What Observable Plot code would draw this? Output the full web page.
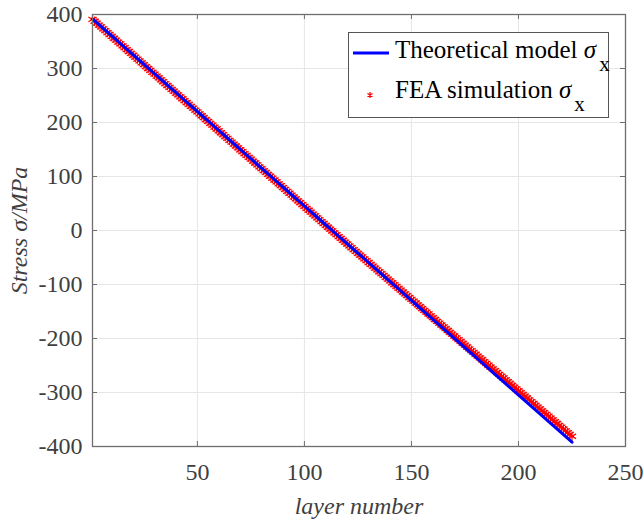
<!DOCTYPE html>
<html>
<head>
<meta charset="utf-8">
<script src="https://cdn.jsdelivr.net/npm/d3@7"></script>
<script src="https://cdn.jsdelivr.net/npm/@observablehq/plot@0.6"></script>
<style>
  html, body { margin: 0; padding: 0; background: #fff; }
  #chart svg { display: block; }
</style>
</head>
<body>
<div id="chart"></div>
<script>
// Theoretical model σx: linear through the layer stack
const theoryLayer = [1, 225];
const theoryStress = [392, -392];

// FEA simulation σx, one value per layer (MPa), layers 1..225
const feaStress = [
  391, 387.5, 384, 380.5, 377, 373.5, 370, 366.5, 363, 359.5,
  356, 352.5, 349, 345.5, 342, 338.5, 335, 331.5, 328, 324.5,
  321, 317.5, 314, 310.5, 307, 303.5, 300, 296.5, 293, 289.5,
  286, 282.5, 279, 275.5, 272, 268.5, 265, 261.5, 258, 254.5,
  251, 247.5, 244, 240.5, 237, 233.5, 230, 226.5, 223, 219.5,
  216, 212.5, 209, 205.5, 202, 198.5, 195, 191.5, 188, 184.5,
  181, 177.5, 174, 170.5, 167, 163.5, 160, 156.5, 153, 149.5,
  146, 142.5, 139, 135.5, 132, 128.5, 125, 121.5, 118, 114.5,
  111, 107.5, 104, 100.5, 97, 93.5, 90, 86.5, 83, 79.5,
  76, 72.5, 69, 65.5, 62, 58.5, 55, 51.5, 48, 44.5,
  41, 37.5, 34, 30.5, 27, 23.5, 20, 16.5, 13, 9.5,
  6.0, 2.6, -0.9, -4.3, -7.8, -11.2, -14.7, -18.1, -21.6, -25.0,
  -28.4, -31.9, -35.3, -38.7, -42.2, -45.6, -49.0, -52.4, -55.9, -59.3,
  -62.7, -66.1, -69.5, -72.9, -76.4, -79.8, -83.2, -86.6, -90.0, -93.4,
  -96.8, -100.2, -103.6, -107.0, -110.5, -113.9, -117.3, -120.7, -124.1, -127.5,
  -130.9, -134.3, -137.7, -141.1, -144.5, -147.9, -151.3, -154.6, -158.0, -161.4,
  -164.8, -168.2, -171.6, -175.0, -178.4, -181.8, -185.2, -188.6, -192.0, -195.4,
  -198.8, -202.2, -205.5, -208.9, -212.3, -215.7, -219.1, -222.4, -225.8, -229.2,
  -232.6, -236.0, -239.3, -242.7, -246.1, -249.5, -252.9, -256.2, -259.6, -263.0,
  -266.4, -269.8, -273.1, -276.5, -279.9, -283.3, -286.7, -290.0, -293.4, -296.8,
  -300.2, -303.5, -306.9, -310.2, -313.6, -317.0, -320.4, -323.7, -327.1, -330.5,
  -333.9, -337.2, -340.6, -343.9, -347.3, -350.7, -354.1, -357.4, -360.8, -364.2,
  -367.6, -370.9, -374.3, -377.6, -381.0
];

const xTicks = [50, 100, 150, 200, 250];
const yTicks = [-400, -300, -200, -100, 0, 100, 200, 300, 400];
const xLabel = "layer number";
const yLabel = "Stress σ/MPa";
const legendLabels = ["Theoretical model ", "FEA simulation "];

const theory = theoryLayer.map((l, i) => ({layer: l, stress: theoryStress[i]}));
const fea = feaStress.map((s, i) => ({layer: i + 1, stress: s}));

const W = 644, H = 521;
const mL = 92, mR = 19, mT = 14, mB = 75;
const innerW = W - mL - mR, innerH = H - mT - mB;
const tickLen = 5;
const axisColor = "#6e6e6e";
const gridColor = "#e6e6e6";
const textColor = "#3f3f3f";
const serif = "'Liberation Serif', 'Times New Roman', serif";
const plain = d => String(d); // hyphen-minus for negative ticks

const svg = Plot.plot({
  width: W,
  height: H,
  marginLeft: mL,
  marginRight: mR,
  marginTop: mT,
  marginBottom: mB,
  style: {fontFamily: serif, fontSize: "24px", color: textColor, background: "#fff", overflow: "visible"},
  x: {domain: [1, 250]},
  y: {domain: [-400, 400]},
  marks: [
    Plot.gridX(xTicks.slice(0, -1), {stroke: gridColor, strokeOpacity: 1}),
    Plot.gridY(yTicks.slice(1, -1), {stroke: gridColor, strokeOpacity: 1}),
    Plot.dot(fea, {x: "layer", y: "stress", symbol: "asterisk", r: 4.5, stroke: "#ff0000", strokeWidth: 1.2}),
    Plot.line(theory, {x: "layer", y: "stress", stroke: "#0000ff", strokeWidth: 3}),
    // inward-pointing ticks on all four sides
    Plot.tickX(xTicks, {x: d => d, insetTop: innerH - tickLen, stroke: axisColor}),
    Plot.tickX(xTicks, {x: d => d, insetBottom: innerH - tickLen, stroke: axisColor}),
    Plot.tickY(yTicks, {y: d => d, insetRight: innerW - tickLen, stroke: axisColor}),
    Plot.tickY(yTicks, {y: d => d, insetLeft: innerW - tickLen, stroke: axisColor}),
    Plot.frame({stroke: axisColor, strokeWidth: 1.3}),
    Plot.axisX({ticks: xTicks, tickSize: 0, tickPadding: 16, label: null, fill: textColor, tickFormat: plain}),
    Plot.axisY({ticks: yTicks, tickSize: 0, tickPadding: 10, label: null, fill: textColor, tickFormat: plain}),
    Plot.text([xLabel], {text: d => d, frameAnchor: "bottom", dy: 60, textAnchor: "middle", lineAnchor: "middle",
      fontStyle: "italic", fontSize: 24, fill: textColor}),
    Plot.text([yLabel], {text: d => d, frameAnchor: "left", dx: -73, rotate: -90, textAnchor: "middle", lineAnchor: "middle",
      fontStyle: "italic", fontSize: 24, fill: textColor})
  ]
});

// Legend box, top right inside the axes
const sel = d3.select(svg);
const lg = sel.append("g")
  .attr("font-family", serif)
  .attr("fill", "#000")
  .attr("text-anchor", "start");
lg.append("rect")
  .attr("x", 348.5).attr("y", 32.5).attr("width", 260).attr("height", 85)
  .attr("fill", "#fff").attr("stroke", "#555").attr("stroke-width", 1);
lg.append("line")
  .attr("x1", 353).attr("x2", 389).attr("y1", 53).attr("y2", 53)
  .attr("stroke", "#0000ff").attr("stroke-width", 3);
lg.append("path")
  .attr("transform", "translate(370,95)")
  .attr("d", d3.symbol(d3.symbolAsterisk, 24)())
  .attr("fill", "none").attr("stroke", "#ff0000").attr("stroke-width", 1.2);
[58, 98].forEach((baseline, i) => {
  const t = lg.append("text")
    .attr("x", 395).attr("y", baseline)
    .attr("font-size", 25).attr("text-anchor", "start");
  t.append("tspan").text(legendLabels[i]);
  t.append("tspan").attr("font-style", "italic").text("σ");
  t.append("tspan").attr("dx", 3).attr("dy", 13).attr("font-size", 21).text("x");
});

document.getElementById("chart").append(svg);
</script>
</body>
</html>
